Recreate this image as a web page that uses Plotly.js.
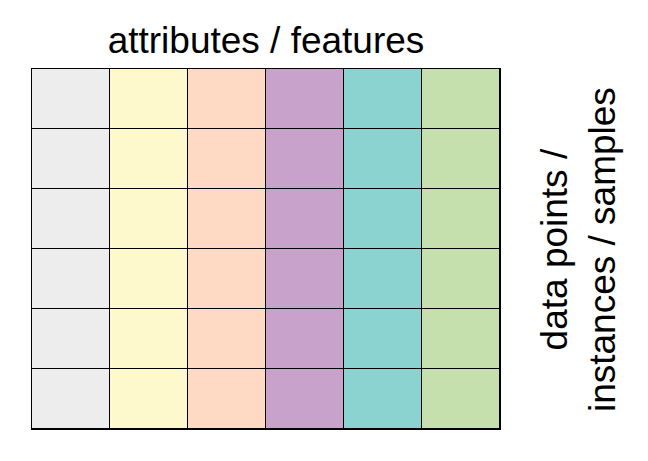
<!DOCTYPE html>
<html>
<head>
<meta charset="utf-8">
<script src="https://cdn.plot.ly/plotly-3.0.1.min.js"></script>
<style>body{margin:0;background:#fff}</style>
</head>
<body>
<div id="myDiv"></div>
<script>
// one column per attribute, one row per sample
const features = ['f1', 'f2', 'f3', 'f4', 'f5', 'f6'];
const samples = ['s1', 's2', 's3', 's4', 's5', 's6'];
const featureColors = ['#ededed', '#fef9cc', '#fedac4', '#c9a2cc', '#8ad3d1', '#c5e0ad'];

// every row repeats the column index so each column gets its own colour
let z = samples.map(() => features.map((f, i) => i));
let colorscale = [];
featureColors.forEach((c, i) => {
  colorscale.push([i / featureColors.length, c]);
  colorscale.push([(i + 1) / featureColors.length, c]);
});

let data = [{
  type: 'heatmap',
  x: features,
  y: samples,
  z: z,
  zmin: -0.5,
  zmax: features.length - 0.5,
  colorscale: colorscale,
  showscale: false,
  xgap: 1,
  ygap: 1,
  hoverinfo: 'skip'
}];

let layout = {
  width: 648,
  height: 461,
  margin: {l: 32, r: 148, t: 69, b: 32},
  paper_bgcolor: 'white',
  plot_bgcolor: 'black',
  font: {family: 'Liberation Sans, Arial, sans-serif', color: 'black'},
  title: {
    text: 'attributes / features',
    font: {size: 37, color: 'black'},
    x: (32 + 234) / 648,
    xanchor: 'center',
    y: 1 - 40 / 461,
    yanchor: 'middle'
  },
  xaxis: {
    showticklabels: false, ticks: '', showgrid: false, zeroline: false,
    showline: true, mirror: true, linecolor: 'black', linewidth: 1
  },
  yaxis: {
    showticklabels: false, ticks: '', showgrid: false, zeroline: false,
    showline: true, mirror: true, linecolor: 'black', linewidth: 1,
    autorange: 'reversed'
  },
  annotations: [{
    text: 'data points /<br>instances / samples',
    xref: 'paper', yref: 'paper',
    x: (578 - 32) / 468, y: 0.497,
    xanchor: 'center', yanchor: 'middle',
    textangle: -90,
    showarrow: false,
    font: {size: 37, color: 'black'}
  }]
};

Plotly.newPlot('myDiv', data, layout, {displayModeBar: false, staticPlot: true});
</script>
</body>
</html>
